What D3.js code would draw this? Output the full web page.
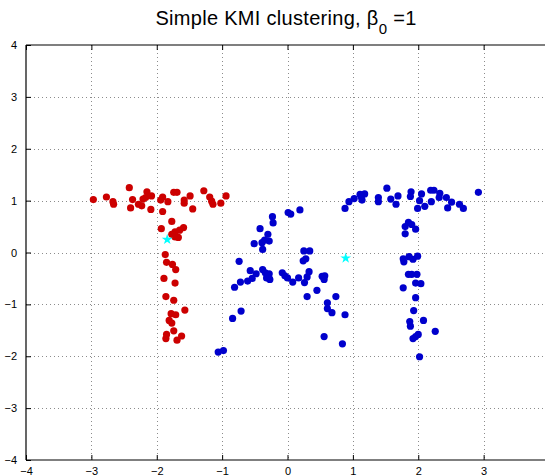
<!DOCTYPE html>
<html>
<head>
<meta charset="utf-8">
<title>Simple KMI clustering</title>
<script src="https://d3js.org/d3.v7.min.js"></script>
<style>
  body { margin: 0; background: #fff; }
  text { font-family: "Liberation Sans", Arial, sans-serif; }
</style>
</head>
<body>
<div id="view"></div>
<script>
var width = 545, height = 475;

var xTicks = [-4, -3, -2, -1, 0, 1, 2, 3, 4];
var yTicks = [-4, -3, -2, -1, 0, 1, 2, 3, 4];

// cluster 1 (red)
var redPoints = [
  [-2.97, 1.02], [-2.77, 1.07], [-2.67, 0.98], [-2.66, 0.93], [-2.42, 1.25],
  [-2.37, 1.02], [-2.40, 0.86], [-2.28, 0.93], [-2.23, 0.90], [-2.21, 1.03],
  [-2.15, 1.17], [-2.17, 1.06], [-2.08, 1.09], [-2.09, 0.83], [-1.94, 1.01],
  [-1.91, 1.07], [-1.83, 0.98], [-1.91, 0.79], [-1.74, 1.16], [-1.69, 1.16],
  [-1.58, 1.01], [-1.58, 0.95], [-1.49, 1.09], [-1.45, 0.84], [-1.28, 1.19],
  [-1.19, 1.07], [-1.16, 0.99], [-1.14, 0.93], [-1.02, 0.95], [-0.94, 1.09],
  [-1.77, 0.60], [-1.93, 0.46], [-1.59, 0.48], [-1.65, 0.43], [-1.72, 0.40],
  [-1.77, 0.35], [-1.67, 0.29], [-1.72, 0.30], [-1.87, -0.04], [-1.85, -0.19],
  [-1.76, -0.23], [-1.71, -0.33], [-1.89, -0.50], [-1.72, -0.59], [-1.86, -0.85],
  [-1.74, -0.92], [-1.57, -1.11], [-1.78, -1.18], [-1.71, -1.20], [-1.81, -1.31],
  [-1.77, -1.36], [-1.74, -1.51], [-1.85, -1.58], [-1.86, -1.66], [-1.62, -1.61],
  [-1.69, -1.69]
];

// cluster 2 (blue)
var bluePoints = [
  [-1.06, -1.92], [-0.98, -1.89], [-0.84, -1.27], [-0.71, -1.13], [-0.81, -0.67],
  [-0.74, -0.17], [-0.72, -0.57], [-0.61, -0.55], [-0.57, -0.35], [-0.54, -0.50],
  [-0.48, -0.41], [-0.51, 0.17], [-0.39, 0.19], [-0.38, 0.06], [-0.35, 0.24],
  [-0.28, 0.22], [-0.30, 0.35], [-0.42, 0.46], [-0.22, 0.57], [-0.23, 0.69],
  [-0.38, -0.33], [-0.34, -0.39], [-0.28, -0.41], [-0.28, -0.50], [-0.32, -0.49],
  [-0.27, -0.52], [-0.08, -0.39], [-0.04, -0.45], [0.00, -0.49], [0.08, -0.57],
  [0.17, -0.49], [0.26, -0.58], [0.30, -0.47], [0.33, -0.37], [0.24, -0.16],
  [0.28, -0.12], [0.25, 0.03], [0.34, 0.03], [0.01, 0.77], [0.05, 0.74],
  [0.19, 0.82], [0.30, -0.85], [0.45, -0.73], [0.53, -0.46], [0.56, -0.52],
  [0.57, -0.45], [0.61, -0.97], [0.61, -1.08], [0.68, -1.16], [0.74, -0.85],
  [0.88, -1.20], [0.56, -1.62], [0.84, -1.76],
  [0.88, 0.85], [0.94, 0.98], [1.02, 1.04], [1.11, 1.12], [1.14, 1.01],
  [1.13, 1.07], [1.18, 1.13], [1.39, 1.06], [1.39, 0.98], [1.52, 1.24],
  [1.58, 1.03], [1.66, 0.93], [1.69, 1.09], [1.89, 1.17], [1.88, 1.08],
  [1.99, 0.85], [2.02, 1.00], [2.05, 1.13], [2.10, 0.89], [2.19, 1.20],
  [2.24, 1.20], [2.20, 0.98], [2.33, 1.14], [2.32, 1.06], [2.43, 1.06],
  [2.45, 0.86], [2.51, 0.97], [2.63, 0.93], [2.69, 0.85], [2.92, 1.16],
  [1.85, 0.58], [1.90, 0.54], [1.80, 0.50], [1.96, 0.45], [1.80, 0.36],
  [1.77, -0.12], [1.78, -0.18], [1.86, -0.08], [1.92, -0.13], [1.99, -0.07],
  [1.85, -0.42], [1.90, -0.42], [1.98, -0.42], [1.96, -0.59], [2.04, -0.60],
  [1.77, -0.68], [1.96, -0.87], [1.93, -1.12], [1.87, -1.33], [1.88, -1.42],
  [2.08, -1.31], [2.26, -1.52], [2.00, -1.58], [1.96, -1.62], [1.92, -1.66],
  [2.02, -2.01]
];

// cluster centres
var centers = [[-1.84, 0.25], [0.89, -0.11]];

var mLeft = 26, mRight = 549, mTop = 45, mBottom = 460;

var svg = d3.select("#view").append("svg")
  .attr("width", width)
  .attr("height", height);

var x = d3.scaleLinear().domain([-4, 4]).range([mLeft, mRight]);
var y = d3.scaleLinear().domain([-4, 4]).range([mBottom, mTop]);

// grid
var grid = svg.append("g")
  .attr("stroke", "#8c8c8c")
  .attr("stroke-width", 1)
  .attr("stroke-dasharray", "1,3");
grid.selectAll(".gx").data(xTicks.slice(1, -1)).enter().append("line")
  .attr("x1", d => Math.round(x(d)) + 0.5).attr("x2", d => Math.round(x(d)) + 0.5)
  .attr("y1", mTop).attr("y2", mBottom);
grid.selectAll(".gy").data(yTicks.slice(1, -1)).enter().append("line")
  .attr("y1", d => Math.round(y(d)) + 0.5).attr("y2", d => Math.round(y(d)) + 0.5)
  .attr("x1", mLeft).attr("x2", mRight);

// points
svg.append("g").selectAll("circle").data(redPoints).enter().append("circle")
  .attr("cx", d => x(d[0])).attr("cy", d => y(d[1]))
  .attr("r", 3.6).attr("fill", "#cc0000");

svg.append("g").selectAll("circle").data(bluePoints).enter().append("circle")
  .attr("cx", d => x(d[0])).attr("cy", d => y(d[1]))
  .attr("r", 3.6).attr("fill", "#0000cc");

var star = d3.symbol().type(d3.symbolStar).size(36);
svg.append("g").selectAll("path").data(centers).enter().append("path")
  .attr("d", star)
  .attr("transform", d => "translate(" + x(d[0]) + "," + y(d[1]) + ")")
  .attr("fill", "#00ffff");

// axes
var fmt = d => d < 0 ? "\u2212" + Math.abs(d) : String(d);

var xAxis = svg.append("g")
  .attr("transform", "translate(0," + mBottom + ")")
  .call(d3.axisBottom(x).tickValues(xTicks).tickSize(-5).tickPadding(7).tickFormat(fmt));
xAxis.select(".domain").remove();
xAxis.selectAll("text").attr("font-size", 11).attr("fill", "#000");

var xTop = svg.append("g")
  .attr("transform", "translate(0," + mTop + ")")
  .call(d3.axisTop(x).tickValues(xTicks).tickSize(-5).tickFormat(""));
xTop.select(".domain").remove();

var yAxis = svg.append("g")
  .attr("transform", "translate(" + mLeft + ",0)")
  .call(d3.axisLeft(y).tickValues(yTicks).tickSize(-5).tickPadding(9).tickFormat(fmt));
yAxis.select(".domain").remove();
yAxis.selectAll("text").attr("font-size", 11).attr("fill", "#000");

svg.append("g").attr("stroke", "#000").attr("stroke-width", 1.2)
  .call(g => {
    g.append("line").attr("x1", mLeft).attr("x2", mRight).attr("y1", mBottom).attr("y2", mBottom);
    g.append("line").attr("x1", mLeft).attr("x2", mRight).attr("y1", mTop).attr("y2", mTop);
    g.append("line").attr("x1", mLeft).attr("x2", mLeft).attr("y1", mTop).attr("y2", mBottom);
  });

// title
var title = svg.append("text")
  .attr("x", 286)
  .attr("y", 25)
  .attr("text-anchor", "middle")
  .attr("font-size", 20)
  .attr("letter-spacing", 0.3)
  .attr("fill", "#000");
title.append("tspan").text("Simple KMI clustering, \u03b2");
title.append("tspan").attr("dy", 9).attr("font-size", 15).text("0");
title.append("tspan").attr("dy", -9).text(" =1");
</script>
</body>
</html>
